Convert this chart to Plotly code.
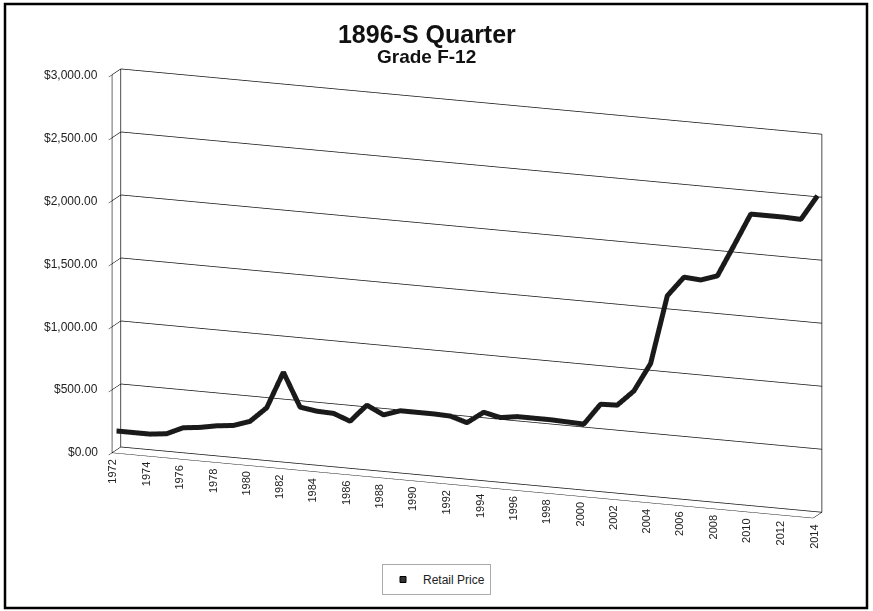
import plotly.graph_objects as go

# ---- data ----
years = [1972, 1973, 1974, 1975, 1976, 1977, 1978, 1979, 1980, 1981,
         1982, 1983, 1984, 1985, 1986, 1987, 1988, 1989, 1990, 1991,
         1992, 1993, 1994, 1995, 1996, 1997, 1998, 1999, 2000, 2001,
         2002, 2003, 2004, 2005, 2006, 2007, 2008, 2009, 2010, 2011,
         2012, 2013, 2014]
retail_price = [150, 150, 150, 165, 225, 240, 265, 280, 325, 445,
                740, 475, 455, 450, 400, 540, 475, 520, 520, 520,
                515, 475, 570, 540, 560, 560, 560, 555, 550, 720,
                725, 850, 1080, 1630, 1790, 1780, 1825, 2080, 2340, 2340,
                2340, 2335, 2535]
year_labels = [1972, 1974, 1976, 1978, 1980, 1982, 1984, 1986, 1988, 1990,
               1992, 1994, 1996, 1998, 2000, 2002, 2004, 2006, 2008, 2010,
               2012, 2014]
price_ticks = [0, 500, 1000, 1500, 2000, 2500, 3000]
price_tick_text = ["$0.00", "$500.00", "$1,000.00", "$1,500.00",
                   "$2,000.00", "$2,500.00", "$3,000.00"]

FONT = "Liberation Sans, Arial, sans-serif"
DEPTH_MID = 0.5

fig = go.Figure()
fig.add_trace(go.Scatter3d(
    x=years, y=[DEPTH_MID] * len(years), z=retail_price,
    mode="lines", line=dict(color="#1a1a1a", width=10),
    name="Retail Price", showlegend=False, hoverinfo="skip"))

# legend entry (square swatch like the original)
fig.add_trace(go.Scatter(
    x=[None], y=[None], mode="markers", name="Retail Price",
    marker=dict(symbol="square", size=6, color="#333",
                line=dict(color="#000", width=1)),
    showlegend=True))

axis_common = dict(showbackground=False, zeroline=False, showspikes=False,
                   gridcolor="#111", gridwidth=1.5, title=dict(text=""),
                   showline=False)

x_annots = [dict(x=yr, y=0, z=0, text=str(yr), textangle=-90,
                 showarrow=False, xanchor="center", yanchor="top",
                 yshift=-5, font=dict(size=11, family=FONT, color="#222"))
            for yr in year_labels]
z_annots = [dict(x=years[0], y=0, z=v, text=t, showarrow=False,
                 xanchor="right", yanchor="middle", xshift=-12,
                 font=dict(size=12, family=FONT, color="#222"))
            for v, t in zip(price_ticks, price_tick_text)]

fig.update_layout(
    width=873, height=611,
    margin=dict(l=0, r=0, t=0, b=0),
    paper_bgcolor="white", plot_bgcolor="rgba(0,0,0,0)",
    font=dict(family=FONT, color="#222"),
    title=dict(text="<b>1896-S Quarter</b>", x=0.489, xanchor="center",
               y=1 - 34 / 611, yanchor="middle", yref="container",
               font=dict(size=25, color="#111")),
    annotations=[dict(text="<b>Grade F-12</b>", xref="paper", yref="paper",
                      x=0.489, y=1 - 57 / 611, xanchor="center",
                      yanchor="middle", showarrow=False,
                      font=dict(size=19, color="#111"))],
    xaxis=dict(visible=False), yaxis=dict(visible=False),
    showlegend=True,
    legend=dict(orientation="h", x=0.5, xanchor="center", y=16 / 611,
                yanchor="bottom", bordercolor="#aaa", borderwidth=1,
                itemwidth=30, font=dict(size=12, color="#222")),
    scene=dict(
        domain=dict(x=[0.07, 1.0], y=[0.04, 1.0]),
        aspectmode="manual", aspectratio=dict(x=2.55, y=0.085, z=1.33),
        xaxis=dict(range=[1972, 2014], tickvals=[1972, 2014],
                   showgrid=True, ticks="", showticklabels=False,
                   **axis_common),
        yaxis=dict(range=[0, 1], tickvals=[0, 1],
                   showgrid=True, ticks="", showticklabels=False,
                   **axis_common),
        zaxis=dict(range=[0, 3000], tickvals=price_ticks,
                   showgrid=True, ticks="outside", ticklen=8,
                   tickcolor="#000", tickwidth=1, showticklabels=True,
                   tickfont=dict(size=1, color="rgba(0,0,0,0)"),
                   **axis_common),
        camera=dict(eye=dict(x=0.68, y=-1.82, z=0.5),
                    center=dict(x=0, y=0, z=0), up=dict(x=0, y=0, z=1),
                    projection=dict(type="orthographic")),
        annotations=x_annots + z_annots,
    ),
    shapes=[dict(type="rect", xref="paper", yref="paper",
                 x0=5 / 873, x1=867 / 873, y0=1 - 608 / 611, y1=1 - 4 / 611,
                 line=dict(color="#000", width=2.5))],
)

fig.write_html("out.html",
               config={"displayModeBar": False},
               post_script="document.body.style.margin='0px';"
                           "document.body.style.overflow='hidden';")
